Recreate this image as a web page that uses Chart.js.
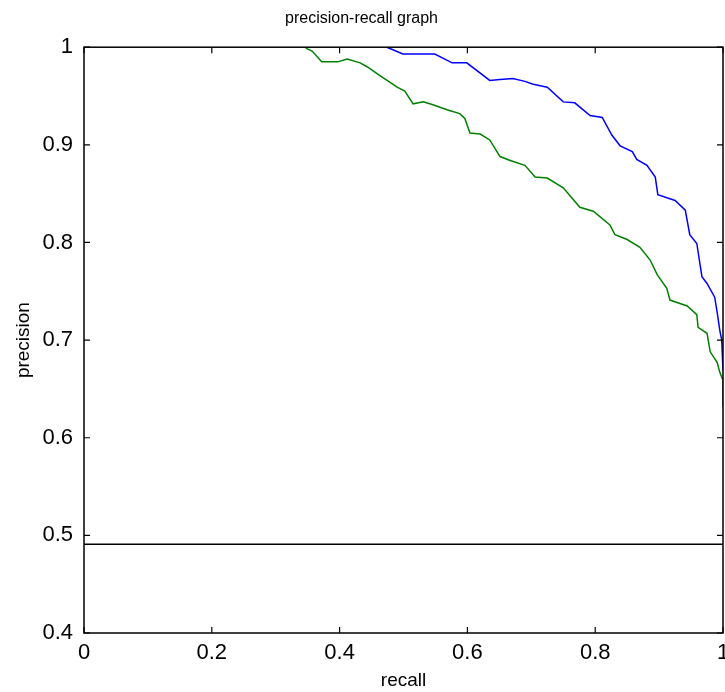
<!DOCTYPE html>
<html>
<head>
<meta charset="utf-8">
<script src="https://cdn.jsdelivr.net/npm/chart.js@4/dist/chart.umd.min.js"></script>
<style>
html,body{margin:0;padding:0;background:#fff;}
#c{display:block;}
</style>
</head>
<body>
<canvas id="c" width="725" height="692"></canvas>
<script>
// ---- data ----
const recallBlue = [0.474,0.499,0.549,0.576,0.599,0.635,0.651,0.671,0.690,0.703,0.725,0.750,0.768,0.792,0.811,0.826,0.839,0.858,0.865,0.881,0.894,0.898,0.925,0.941,0.948,0.959,0.967,0.975,0.987,0.991,0.995,0.998,1.000];
const precisionBlue = [1.000,0.993,0.993,0.984,0.984,0.966,0.967,0.968,0.965,0.962,0.959,0.944,0.943,0.930,0.928,0.910,0.899,0.893,0.885,0.879,0.867,0.849,0.843,0.833,0.808,0.799,0.765,0.758,0.744,0.728,0.710,0.700,0.669];
const recallGreen = [0.347,0.357,0.372,0.397,0.412,0.432,0.443,0.463,0.479,0.490,0.502,0.515,0.531,0.546,0.568,0.588,0.596,0.604,0.620,0.635,0.651,0.667,0.690,0.706,0.725,0.750,0.776,0.797,0.823,0.831,0.850,0.870,0.886,0.897,0.912,0.917,0.944,0.959,0.961,0.975,0.980,0.991,0.995,1.000,1.000];
const precisionGreen = [0.999,0.996,0.985,0.985,0.988,0.984,0.980,0.971,0.964,0.959,0.955,0.942,0.944,0.941,0.936,0.932,0.927,0.912,0.911,0.905,0.888,0.884,0.879,0.867,0.866,0.856,0.836,0.832,0.818,0.808,0.803,0.795,0.782,0.767,0.753,0.741,0.735,0.726,0.713,0.707,0.688,0.677,0.667,0.659,0.632];
const recallBaseline = [0, 1];
const precisionBaseline = [0.491, 0.491];
const xTickValues = [0, 0.2, 0.4, 0.6, 0.8, 1];
const yTickValues = [0.4, 0.5, 0.6, 0.7, 0.8, 0.9, 1];

function pts(xs, ys){ return xs.map((x,i)=>({x:x, y:ys[i]})); }

const FONT = "'Liberation Sans', Arial, Helvetica, sans-serif";

const boxTicks = {
  id: 'boxTicks',
  afterDraw(chart){
    const {ctx, chartArea:a, scales:{x, y}} = chart;
    ctx.save();
    ctx.strokeStyle = '#000';
    ctx.lineWidth = 1.5;
    ctx.strokeRect(a.left, a.top, a.right - a.left, a.bottom - a.top);
    ctx.lineWidth = 1.2;
    const L = 6;
    ctx.beginPath();
    xTickValues.forEach(v=>{
      const px = x.getPixelForValue(v);
      ctx.moveTo(px, a.bottom); ctx.lineTo(px, a.bottom - L);
      ctx.moveTo(px, a.top); ctx.lineTo(px, a.top + L);
    });
    yTickValues.forEach(v=>{
      const py = y.getPixelForValue(v);
      ctx.moveTo(a.left, py); ctx.lineTo(a.left + L, py);
      ctx.moveTo(a.right, py); ctx.lineTo(a.right - L, py);
    });
    ctx.stroke();
    ctx.restore();
  }
};

new Chart(document.getElementById('c'), {
  type: 'scatter',
  data: {
    datasets: [
      {data: pts(recallBlue, precisionBlue), borderColor:'#0000ff', borderWidth:1.5, showLine:true, pointRadius:0, tension:0},
      {data: pts(recallGreen, precisionGreen), borderColor:'#008000', borderWidth:1.5, showLine:true, pointRadius:0, tension:0},
      {data: pts(recallBaseline, precisionBaseline), borderColor:'#000000', borderWidth:1.5, showLine:true, pointRadius:0, tension:0}
    ]
  },
  options: {
    responsive:false,
    animation:false,
    devicePixelRatio:1,
    layout:{padding:{left:0,right:2,top:0,bottom:0}},
    plugins:{
      legend:{display:false},
      tooltip:{enabled:false},
      title:{display:true, text:'precision-recall graph', color:'#000',
        font:{family:FONT, size:16, weight:'normal'}, padding:{top:9,bottom:19}}
    },
    scales:{
      x:{
        type:'linear', min:0, max:1,
        grid:{display:false, drawTicks:false, tickLength:0},
        border:{display:false},
        ticks:{stepSize:0.2, color:'#000', padding:7, maxRotation:0,
          font:{family:FONT, size:22},
          callback:v=>String(+(+v).toFixed(1))},
        title:{display:true, text:'recall', color:'#000', font:{family:FONT, size:19}, padding:{top:0,bottom:0}},
        afterFit(s){ s.height = 59; s.paddingLeft = 0; s.paddingRight = 0; }
      },
      y:{
        type:'linear', min:0.4, max:1,
        grid:{display:false, drawTicks:false, tickLength:0},
        border:{display:false},
        ticks:{stepSize:0.1, color:'#000', padding:11,
          font:{family:FONT, size:22},
          callback:v=>String(+(+v).toFixed(1))},
        title:{display:true, text:'precision', color:'#000', font:{family:FONT, size:19}, padding:{top:12,bottom:0}},
        afterFit(s){ s.width = 84; s.paddingTop = 0; s.paddingBottom = 0; }
      }
    }
  },
  plugins:[boxTicks]
});
</script>
</body>
</html>
